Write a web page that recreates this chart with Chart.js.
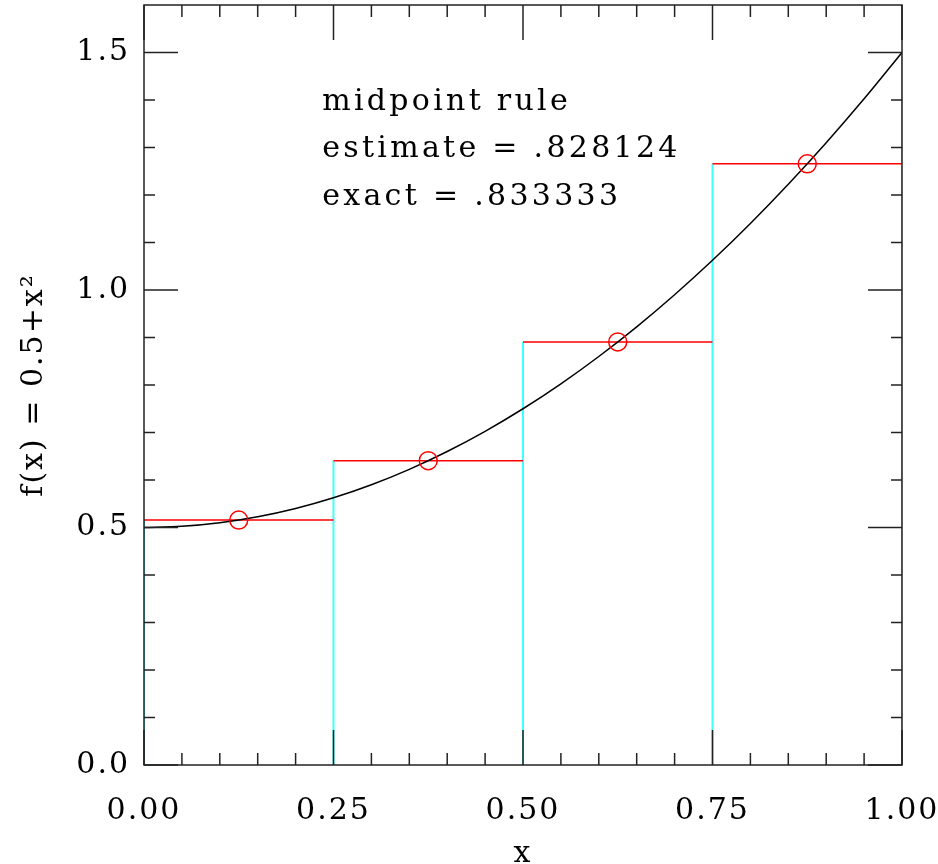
<!DOCTYPE html>
<html lang="en">
<head>
    <meta charset="UTF-8">
    <title>Midpoint rule</title>
    <script src="https://cdn.jsdelivr.net/npm/chart.js"></script>
    <style>
        body {
            margin: 0;
            padding: 0;
            background: #fff;
        }
        canvas {
            display: block;
        }
    </style>
</head>
<body>
    <canvas id="midpointChart" width="938" height="864"></canvas>

    <script>
        // f(x) = 0.5 + x^2 on [0, 1]
        const curveX = [0, 0.05, 0.1, 0.15, 0.2, 0.25, 0.3, 0.35, 0.4, 0.45, 0.5,
                        0.55, 0.6, 0.65, 0.7, 0.75, 0.8, 0.85, 0.9, 0.95, 1.0];
        const curveY = [0.5, 0.5025, 0.51, 0.5225, 0.54, 0.5625, 0.59, 0.6225, 0.66, 0.7025, 0.75,
                        0.8025, 0.86, 0.9225, 0.99, 1.0625, 1.14, 1.2225, 1.31, 1.4025, 1.5];

        // bins and midpoint samples
        const binEdges = [0, 0.25, 0.5, 0.75, 1.0];
        const edgeHeights = [0.515625, 0.640625, 0.890625, 1.265625, 1.5];
        const midX = [0.125, 0.375, 0.625, 0.875];
        const midY = [0.515625, 0.640625, 0.890625, 1.265625];

        // axis ticks
        const xMajorTicks = [0, 0.25, 0.5, 0.75, 1.0];
        const xMinorTicks = [0.05, 0.1, 0.15, 0.2, 0.3, 0.35, 0.4, 0.45,
                             0.55, 0.6, 0.65, 0.7, 0.8, 0.85, 0.9, 0.95];
        const yMajorTicks = [0, 0.5, 1.0, 1.5];
        const yMinorTicks = [0.1, 0.2, 0.3, 0.4, 0.6, 0.7, 0.8, 0.9, 1.1, 1.2, 1.3, 1.4];

        const noteLines = ['midpoint rule', 'estimate = .828124', 'exact = .833333'];
        const noteX = 0.235;
        const noteY = [1.378, 1.279, 1.180];

        const FONT = 'DejaVu Serif';

        // red horizontal steps, broken between bins
        const stepPoints = [];
        midY.forEach((h, i) => {
            stepPoints.push({ x: binEdges[i], y: h });
            stepPoints.push({ x: binEdges[i + 1], y: h });
            stepPoints.push({ x: binEdges[i + 1], y: null });
        });

        // cyan verticals at each bin edge
        const edgePoints = [];
        binEdges.forEach((e, i) => {
            edgePoints.push({ x: e, y: 0 });
            edgePoints.push({ x: e, y: edgeHeights[i] });
            edgePoints.push({ x: e, y: null });
        });

        const frameAndTicks = {
            id: 'frameAndTicks',
            beforeDraw(chart) {
                chart.ctx.letterSpacing = '2px';
            },
            afterDatasetsDraw(chart) {
                const { ctx, chartArea: { left, right, top, bottom }, scales: { x, y } } = chart;
                ctx.save();
                ctx.strokeStyle = '#222';
                ctx.lineWidth = 1.5;
                ctx.strokeRect(left, top, right - left, bottom - top);

                ctx.beginPath();
                const xt = (list, len) => list.forEach(v => {
                    const px = x.getPixelForValue(v);
                    ctx.moveTo(px, bottom); ctx.lineTo(px, bottom - len);
                    ctx.moveTo(px, top); ctx.lineTo(px, top + len);
                });
                const yt = (list, len) => list.forEach(v => {
                    const py = y.getPixelForValue(v);
                    ctx.moveTo(left, py); ctx.lineTo(left + len, py);
                    ctx.moveTo(right, py); ctx.lineTo(right - len, py);
                });
                xt(xMajorTicks, 35);
                xt(xMinorTicks, 12);
                yt(yMajorTicks, 34);
                yt(yMinorTicks, 11);
                ctx.stroke();

                // annotation
                ctx.fillStyle = '#000';
                ctx.font = '30px "' + FONT + '"';
                ctx.letterSpacing = '3.3px';
                ctx.textAlign = 'left';
                ctx.textBaseline = 'alphabetic';
                noteLines.forEach((t, i) => {
                    ctx.fillText(t, x.getPixelForValue(noteX), y.getPixelForValue(noteY[i]));
                });
                ctx.restore();
            }
        };

        // keep the plot area fixed: drop the label overhang padding
        const noOverhang = s => {
            s.paddingTop = 0; s.paddingBottom = 0;
            s.paddingLeft = 0; s.paddingRight = 0;
        };

        const ctx = document.getElementById('midpointChart').getContext('2d');
        new Chart(ctx, {
            type: 'line',
            data: {
                datasets: [
                    {
                        label: 'midpoints',
                        data: midX.map((v, i) => ({ x: v, y: midY[i] })),
                        showLine: false,
                        pointStyle: 'circle',
                        pointRadius: 9,
                        pointBorderWidth: 1.5,
                        borderColor: '#ff0000',
                        backgroundColor: 'rgba(0,0,0,0)',
                        order: 0
                    },
                    {
                        label: 'f(x)',
                        data: curveX.map((v, i) => ({ x: v, y: curveY[i] })),
                        borderColor: '#000',
                        borderWidth: 1.5,
                        pointRadius: 0,
                        cubicInterpolationMode: 'monotone',
                        order: 1
                    },
                    {
                        label: 'steps',
                        data: stepPoints,
                        borderColor: '#ff0000',
                        borderWidth: 1.5,
                        pointRadius: 0,
                        spanGaps: false,
                        order: 2
                    },
                    {
                        label: 'edges',
                        data: edgePoints,
                        borderColor: '#40ffff',
                        borderWidth: 2,
                        pointRadius: 0,
                        spanGaps: false,
                        order: 3
                    }
                ]
            },
            options: {
                responsive: false,
                maintainAspectRatio: false,
                animation: false,
                layout: { autoPadding: false, padding: { top: 5, right: 36, left: 0, bottom: 0 } },
                plugins: {
                    legend: { display: false },
                    tooltip: { enabled: false }
                },
                scales: {
                    x: {
                        type: 'linear',
                        min: 0,
                        max: 1,
                        grid: { display: false, drawTicks: false },
                        border: { display: false },
                        afterBuildTicks: s => { s.ticks = xMajorTicks.map(v => ({ value: v })); },
                        afterFit: s => { s.height = 99; noOverhang(s); },
                        ticks: {
                            padding: 28,
                            color: '#000',
                            font: { family: FONT, size: 30 },
                            maxRotation: 0,
                            autoSkip: false,
                            callback: v => v.toFixed(2)
                        },
                        title: {
                            display: true,
                            text: 'x',
                            color: '#000',
                            font: { family: FONT, size: 30, lineHeight: 0.66 },
                            padding: { top: 0, bottom: 0 }
                        }
                    },
                    y: {
                        type: 'linear',
                        min: 0,
                        max: 1.6,
                        grid: { display: false, drawTicks: false },
                        border: { display: false },
                        afterBuildTicks: s => { s.ticks = yMajorTicks.map(v => ({ value: v })); },
                        afterFit: s => { s.width = 144; noOverhang(s); },
                        ticks: {
                            padding: 14,
                            color: '#000',
                            font: { family: FONT, size: 30 },
                            autoSkip: false,
                            callback: v => v.toFixed(1)
                        },
                        title: {
                            display: true,
                            text: 'f(x) = 0.5+x²',
                            color: '#000',
                            font: { family: FONT, size: 30, lineHeight: 1.2 },
                            padding: { top: 16, bottom: 0 }
                        }
                    }
                }
            },
            plugins: [frameAndTicks]
        });
    </script>
</body>
</html>
